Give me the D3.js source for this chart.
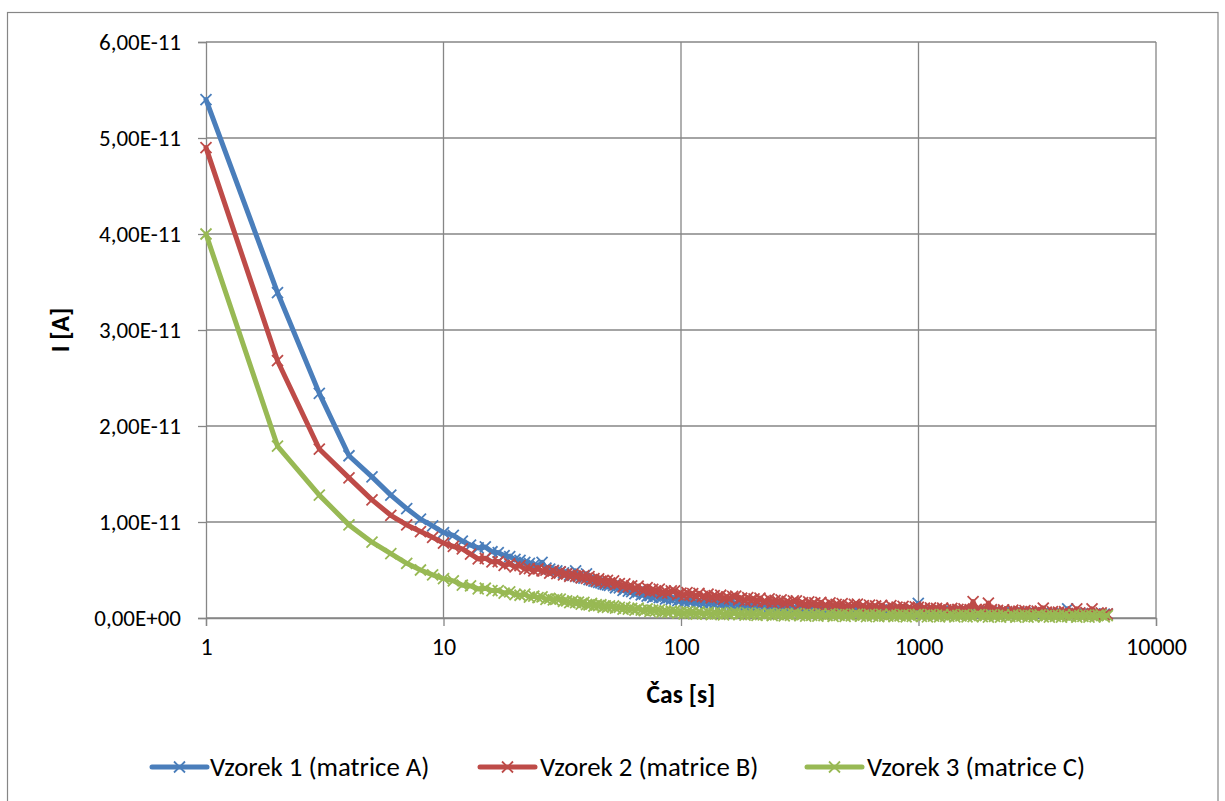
<!DOCTYPE html>
<html>
<head>
<meta charset="utf-8">
<script src="https://cdn.jsdelivr.net/npm/d3@7"></script>
<style>
  html, body { margin: 0; padding: 0; background: #ffffff; }
  svg { display: block; }
  text { font-family: Carlito, Calibri, Lato, sans-serif; fill: #000; }
</style>
</head>
<body>
<div id="chart"></div>
<script>
// Sampling times [s]
const times = [
  1,2,3,4,5,6,7,8,9,10, 11,12,13,14,15,16,17,18,19,20,
  21,22,23,24,25,26,27,28,29,30, 31,32,33,34,35,36,37,38,39,40,
  41,42,43,44,45,46,47,48,49,50,
  52,53,55,57,58,60,62,64,66,68,
  70,72,74,76,78,81,83,86,88,91,
  94,97,100,103,106,109,112,116,119,123,
  127,130,134,138,142,147,151,156,160,165,
  170,175,180,186,191,197,203,209,215,222,
  228,235,242,249,257,264,272,280,289,297,
  306,316,325,335,345,355,366,377,388,400,
  412,424,437,450,463,477,491,506,521,537,
  553,569,586,604,622,641,660,680,700,721,
  743,765,788,812,836,861,887,913,941,969,
  998,1028,1059,1090,1123,1157,1191,1227,1264,1302,
  1341,1381,1422,1465,1509,1554,1601,1649,1698,1749,
  1802,1856,1911,1969,2028,2089,2151,2216,2282,2351,
  2421,2494,2569,2646,2725,2807,2891,2978,3067,3159,
  3254,3352,3452,3556,3662,3772,3885,4002,4122,4246,
  4373,4504,4639,4779,4922,5070,5222,5379,5540,5706,
  5877,6054,6235
];

// Currents in pA (1e-12 A)
const vzorek1 = [
  54,33.9,23.4,16.9,14.7,12.8,11.4,10.3,9.6,8.9, 8.6,8.0,7.6,7.3,7.4,6.9,6.8,6.5,6.4,6.1,
  6.0,5.8,5.7,5.5,5.4,5.8,5.2,5.1,4.95,4.9, 4.8,4.7,4.65,4.5,4.45,4.9,4.3,4.2,4.15,4.6,
  4.0,3.95,3.85,3.8,3.7,3.65,3.55,3.5,3.45,3.4,
  3.38,3.15,3.13,2.88,3.01,2.79,2.75,2.53,2.72,2.42,
  2.5,2.28,2.33,2.15,2.29,2.12,2.16,1.96,2.12,1.93,
  2.04,1.82,1.88,1.72,1.87,1.73,1.78,1.61,1.77,1.59,
  1.71,1.52,1.59,1.43,1.59,1.45,1.5,1.34,1.51,1.34,
  1.47,1.28,1.36,1.21,1.37,1.24,1.3,1.14,1.32,1.15,
  1.28,1.09,1.18,1.03,1.2,1.07,1.14,0.99,1.16,1.0,
  1.04,1.03,1.02,1.01,1.0,0.99,0.98,0.97,0.96,0.95,
  0.94,0.94,0.93,0.92,0.92,0.91,0.9,0.9,0.89,0.89,
  0.88,0.87,0.87,0.86,0.85,0.85,0.84,0.83,0.83,0.82,
  0.81,0.81,0.8,0.8,0.79,0.78,0.78,0.77,0.77,0.76,
  1.53,0.75,0.74,0.74,0.73,0.72,0.72,0.71,0.7,0.7,
  0.69,0.68,0.68,0.67,0.66,0.66,0.65,0.64,0.64,0.63,
  0.63,0.62,0.62,0.61,0.61,0.6,0.6,0.59,0.58,0.58,
  0.57,0.57,0.56,0.55,0.55,0.54,0.53,0.53,0.52,0.51,
  0.51,0.5,0.5,0.49,0.49,0.48,0.48,0.48,0.47,0.95,
  0.46,0.46,0.45,0.45,0.44,0.44,0.43,0.43,0.42,0.42,
  0.41,0.41,0.4
];
const vzorek2 = [
  49,26.8,17.6,14.6,12.3,10.7,9.7,9.0,8.4,7.8, 7.45,7.2,6.65,6.15,6.22,5.85,5.88,5.47,5.65,5.32,
  5.45,5.1,5.15,4.9,5.12,4.9,4.98,4.67,4.9,4.62, 4.8,4.5,4.6,4.35,4.57,4.35,4.43,4.17,4.4,4.12,
  4.3,4.0,4.1,3.85,4.07,3.85,3.93,3.67,3.93,3.67,
  3.86,3.48,3.59,3.24,3.55,3.24,3.34,3.0,3.32,2.96,
  2.9,3.17,2.75,2.98,2.83,3.0,2.58,2.8,2.59,2.83,
  2.82,2.43,2.59,2.3,2.64,2.39,2.53,2.22,2.57,2.24,
  2.21,2.49,2.09,2.32,2.18,2.37,1.97,2.21,2.01,2.26,
  2.27,1.9,2.07,1.78,2.12,1.87,2.0,1.7,2.06,1.73,
  1.71,1.99,1.59,1.83,1.68,1.88,1.48,1.72,1.52,1.78,
  1.79,1.43,1.61,1.33,1.67,1.43,1.57,1.27,1.63,1.31,
  1.29,1.57,1.17,1.42,1.28,1.49,1.09,1.34,1.14,1.41,
  1.44,1.09,1.28,1.0,1.35,1.11,1.25,0.96,1.32,1.01,
  1.0,1.28,0.89,1.14,1.01,1.22,0.83,1.08,0.89,1.16,
  1.12,0.91,1.02,0.85,1.05,0.9,0.99,0.81,1.03,0.84,
  0.83,1.0,0.76,0.91,0.83,0.95,0.71,0.86,1.7,0.9,
  0.91,0.7,0.81,1.55,0.86,0.71,0.8,0.62,0.84,0.65,
  0.64,0.81,0.57,0.72,0.64,0.76,0.52,0.67,0.55,0.71,
  0.72,1.02,0.62,0.45,0.66,0.52,0.61,0.43,0.65,0.46,
  0.45,0.62,0.95,0.53,0.45,0.57,0.33,0.95,0.36,0.52,
  0.53,0.32,0.43
];
const vzorek3 = [
  40,17.9,12.8,9.7,7.9,6.7,5.7,5.0,4.5,4.1, 3.87,3.42,3.34,3.03,3.1,2.86,2.86,2.59,2.72,2.44,
  2.37,2.48,2.18,2.27,2.13,2.21,1.93,2.04,1.88,2.0, 1.97,1.72,1.79,1.59,1.77,1.59,1.65,1.44,1.62,1.39,
  1.36,1.51,1.25,1.38,1.28,1.38,1.12,1.26,1.12,1.27,
  1.25,1.03,1.11,0.92,1.12,0.93,1.01,0.82,1.02,0.81,
  0.78,0.94,0.69,0.83,0.74,0.84,0.59,0.72,0.59,0.73,
  0.73,0.51,0.61,0.44,0.65,0.5,0.59,0.41,0.63,0.44,
  0.43,0.6,0.36,0.52,0.44,0.57,0.33,0.48,0.37,0.53,
  0.55,0.34,0.46,0.29,0.51,0.36,0.46,0.28,0.51,0.32,
  0.32,0.49,0.26,0.41,0.34,0.46,0.23,0.38,0.27,0.43,
  0.45,0.25,0.36,0.2,0.42,0.27,0.37,0.2,0.42,0.24,
  0.24,0.42,0.18,0.34,0.27,0.4,0.16,0.32,0.21,0.38,
  0.4,0.19,0.31,0.15,0.37,0.23,0.32,0.15,0.38,0.2,
  0.2,0.38,0.15,0.3,0.23,0.36,0.13,0.29,0.18,0.35,
  0.37,0.17,0.29,0.12,0.34,0.2,0.3,0.13,0.36,0.18,
  0.17,0.35,0.12,0.28,0.21,0.34,0.11,0.26,0.15,0.32,
  0.34,0.14,0.26,0.1,0.32,0.18,0.27,0.1,0.33,0.15,
  0.15,0.33,0.1,0.26,0.19,0.32,0.09,0.24,0.13,0.3,
  0.32,0.12,0.24,0.08,0.3,0.16,0.26,0.09,0.32,0.14,
  0.14,0.32,0.09,0.25,0.18,0.31,0.08,0.24,0.13,0.3,
  0.32,0.12,0.24
];

const seriesNames = ["Vzorek 1 (matrice A)", "Vzorek 2 (matrice B)", "Vzorek 3 (matrice C)"];
const seriesColors = ["#4a7ebb", "#be4b48", "#98b954"];

const xTickValues = [1, 10, 100, 1000, 10000];
const xTickLabels = ["1", "10", "100", "1000", "10000"];
const yTickValues = [0, 1e-11, 2e-11, 3e-11, 4e-11, 5e-11, 6e-11];
const yTickLabels = ["0,00E+00", "1,00E-11", "2,00E-11", "3,00E-11", "4,00E-11", "5,00E-11", "6,00E-11"];

const xTitle = "Čas [s]";
const yTitle = "I [A]";

const W = 1225, H = 801;
const plot = { left: 206, right: 1156, top: 42, bottom: 618 };
const gridColor = "#868686";
const fontFamily = "Carlito, Calibri, Lato, sans-serif";

const svg = d3.select("#chart").append("svg")
  .attr("width", W).attr("height", H);

svg.append("rect").attr("width", W).attr("height", H).attr("fill", "#fff");

// chart area frame
svg.append("rect")
  .attr("x", 7.5).attr("y", 12.5)
  .attr("width", 1210.5).attr("height", 800)
  .attr("fill", "none").attr("stroke", gridColor).attr("stroke-width", 1.2);

const x = d3.scaleLog().domain([1, 10000]).range([plot.left, plot.right]);
const y = d3.scaleLinear().domain([0, 6e-11]).range([plot.bottom, plot.top]);

// gridlines
const grid = svg.append("g").attr("stroke", gridColor).attr("stroke-width", 1.3);
grid.selectAll("line.h").data(yTickValues).join("line")
  .attr("x1", plot.left).attr("x2", plot.right)
  .attr("y1", d => y(d)).attr("y2", d => y(d));
grid.selectAll("line.v").data(xTickValues.slice(1)).join("line")
  .attr("x1", d => x(d)).attr("x2", d => x(d))
  .attr("y1", plot.top).attr("y2", plot.bottom);

// y axis
const yAxis = d3.axisLeft(y).tickValues(yTickValues)
  .tickFormat((d, i) => yTickLabels[i]).tickSize(8).tickPadding(17);
const gy = svg.append("g").attr("transform", `translate(${plot.left},0)`).call(yAxis);
gy.select(".domain").attr("stroke", gridColor).attr("stroke-width", 1.3);
gy.selectAll(".tick line").attr("stroke", gridColor).attr("stroke-width", 1.3);
gy.selectAll(".tick text").attr("font-size", 23)
  .attr("font-family", fontFamily).attr("fill", "#000");

// x axis
const xAxis = d3.axisBottom(x).tickValues(xTickValues)
  .tickFormat((d, i) => xTickLabels[i]).tickSize(8).tickPadding(12);
const gx = svg.append("g").attr("transform", `translate(0,${plot.bottom})`).call(xAxis);
gx.select(".domain").attr("stroke", gridColor).attr("stroke-width", 1.3);
gx.selectAll(".tick line").attr("stroke", gridColor).attr("stroke-width", 1.3);
gx.selectAll(".tick text").attr("font-size", 24)
  .attr("font-family", fontFamily).attr("fill", "#000");

// axis titles
svg.append("text").attr("x", (plot.left + plot.right) / 2).attr("y", 703)
  .attr("text-anchor", "middle").attr("font-size", 25.5).attr("font-weight", "bold")
  .text(xTitle);
svg.append("text")
  .attr("transform", `translate(69,${(plot.top + plot.bottom) / 2}) rotate(-90)`)
  .attr("text-anchor", "middle").attr("font-size", 25.5).attr("font-weight", "bold")
  .text(yTitle);

// series
const series = [vzorek1, vzorek2, vzorek3].map((vals, i) => ({
  name: seriesNames[i],
  color: seriesColors[i],
  points: times.map((t, j) => ({ t, v: vals[j] * 1e-12 }))
}));

const line = d3.line().x(d => x(d.t)).y(d => y(d.v));
const ms = 5.5;
const markerPath = `M${-ms},${-ms}L${ms},${ms}M${-ms},${ms}L${ms},${-ms}`;

const plotG = svg.append("g");
series.forEach(s => {
  const g = plotG.append("g");
  g.append("path").datum(s.points)
    .attr("d", line).attr("fill", "none")
    .attr("stroke", s.color).attr("stroke-width", 5)
    .attr("stroke-linejoin", "round").attr("stroke-linecap", "round");
  g.selectAll("path.m").data(s.points).join("path")
    .attr("class", "m")
    .attr("transform", d => `translate(${x(d.t)},${y(d.v)})`)
    .attr("d", markerPath)
    .attr("stroke", s.color).attr("stroke-width", 1.8).attr("fill", "none");
});

// legend
const legendY = 767;
const legendItems = [
  { lx: 152, tx: 210 },
  { lx: 480, tx: 540 },
  { lx: 807, tx: 867 }
];
series.forEach((s, i) => {
  const it = legendItems[i];
  const g = svg.append("g");
  g.append("line").attr("x1", it.lx).attr("x2", it.lx + 55)
    .attr("y1", legendY).attr("y2", legendY)
    .attr("stroke", s.color).attr("stroke-width", 5).attr("stroke-linecap", "round");
  g.append("path").attr("transform", `translate(${it.lx + 27.5},${legendY})`)
    .attr("d", markerPath).attr("stroke", s.color).attr("stroke-width", 1.8);
  g.append("text").attr("x", it.tx).attr("y", legendY + 9)
    .attr("font-size", 26.8).text(s.name);
});
</script>
</body>
</html>
